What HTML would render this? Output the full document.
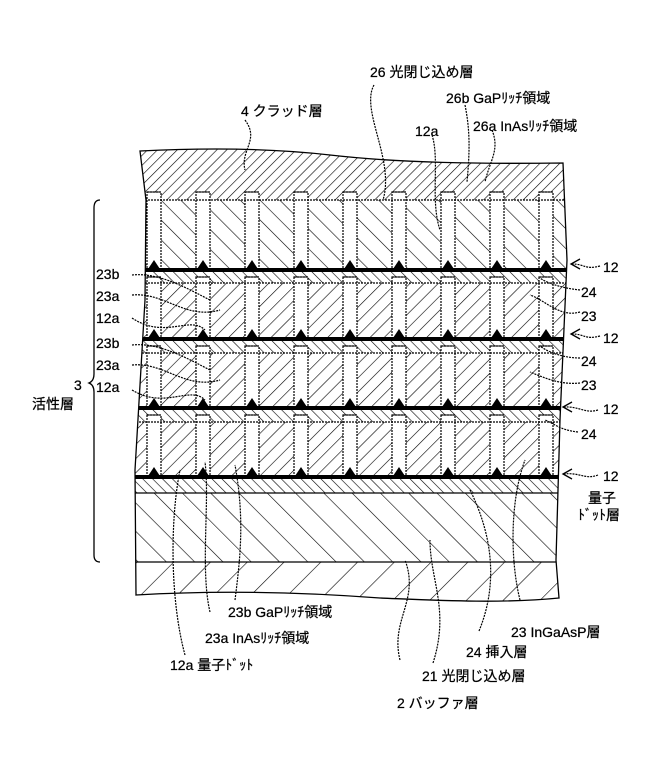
<!DOCTYPE html>
<html><head><meta charset="utf-8"><style>
html,body{margin:0;padding:0;background:#fff;}
svg{display:block;}
text{font-family:"Liberation Sans","Noto Sans CJK JP",sans-serif;font-size:14px;fill:#000;stroke:#000;stroke-width:0.25px;}
</style></head><body>
<svg width="656" height="780" viewBox="0 0 656 780" xmlns="http://www.w3.org/2000/svg">
<defs>
<pattern id="pClad" width="7" height="7" patternUnits="userSpaceOnUse" patternTransform="rotate(45)"><line x1="0" y1="0" x2="0" y2="7" stroke="#000" stroke-width="1.2"/></pattern>
<pattern id="p26" width="14" height="14" patternUnits="userSpaceOnUse" patternTransform="rotate(-45)"><line x1="0" y1="0" x2="0" y2="14" stroke="#000" stroke-width="1.2"/></pattern>
<pattern id="p24" width="7" height="7" patternUnits="userSpaceOnUse" patternTransform="rotate(-45)"><line x1="0" y1="0" x2="0" y2="7" stroke="#000" stroke-width="1.2"/></pattern>
<pattern id="p23" width="10" height="10" patternUnits="userSpaceOnUse" patternTransform="rotate(45)"><line x1="0" y1="0" x2="0" y2="10" stroke="#000" stroke-width="1.2"/></pattern>
<pattern id="p21" width="20" height="20" patternUnits="userSpaceOnUse" patternTransform="rotate(-45)"><line x1="0" y1="0" x2="0" y2="20" stroke="#000" stroke-width="1.2"/></pattern>
<pattern id="p2" width="26" height="26" patternUnits="userSpaceOnUse" patternTransform="rotate(45)"><line x1="0" y1="0" x2="0" y2="26" stroke="#000" stroke-width="1.2"/></pattern>
<clipPath id="body"><path d="M140,151 C200,148 270,148 330,155 C400,163 480,164 563,163 L567,260 L560,420 L556,560 L559,598 C500,604 430,600 380,598 C300,592 220,590 136,595 L135,470 L145,300 L146,200 Z"/></clipPath>
<g id="colrow">
<rect x="147" y="0" width="14" height="1"/><rect x="196" y="0" width="14" height="1"/><rect x="245" y="0" width="14" height="1"/><rect x="294" y="0" width="14" height="1"/><rect x="343" y="0" width="14" height="1"/><rect x="392" y="0" width="14" height="1"/><rect x="441" y="0" width="14" height="1"/><rect x="490" y="0" width="14" height="1"/><rect x="539" y="0" width="14" height="1"/>
</g>
</defs>
<g clip-path="url(#body)">
<rect x="130" y="140" width="440" height="60" fill="url(#pClad)"/>
<rect x="130" y="200" width="440" height="70" fill="url(#p26)"/>
<rect x="130" y="270" width="440" height="13" fill="url(#p24)"/>
<rect x="130" y="283" width="440" height="56" fill="url(#p23)"/>
<rect x="130" y="339" width="440" height="14" fill="url(#p24)"/>
<rect x="130" y="353" width="440" height="55" fill="url(#p23)"/>
<rect x="130" y="408" width="440" height="14" fill="url(#p24)"/>
<rect x="130" y="422" width="440" height="55" fill="url(#p23)"/>
<rect x="130" y="477" width="440" height="16" fill="url(#p24)"/>
<rect x="130" y="493" width="440" height="69" fill="url(#p21)"/>
<rect x="130" y="562" width="440" height="45" fill="url(#p2)"/>
<g stroke="#000" stroke-width="1.2" fill="#fff" stroke-dasharray="2,1">
<g><rect x="147" y="192" width="14" height="78"/><rect x="196" y="192" width="14" height="78"/><rect x="245" y="192" width="14" height="78"/><rect x="294" y="192" width="14" height="78"/><rect x="343" y="192" width="14" height="78"/><rect x="392" y="192" width="14" height="78"/><rect x="441" y="192" width="14" height="78"/><rect x="490" y="192" width="14" height="78"/><rect x="539" y="192" width="14" height="78"/></g>
<g><rect x="147" y="277" width="14" height="62"/><rect x="196" y="277" width="14" height="62"/><rect x="245" y="277" width="14" height="62"/><rect x="294" y="277" width="14" height="62"/><rect x="343" y="277" width="14" height="62"/><rect x="392" y="277" width="14" height="62"/><rect x="441" y="277" width="14" height="62"/><rect x="490" y="277" width="14" height="62"/><rect x="539" y="277" width="14" height="62"/></g>
<g><rect x="147" y="346" width="14" height="62"/><rect x="196" y="346" width="14" height="62"/><rect x="245" y="346" width="14" height="62"/><rect x="294" y="346" width="14" height="62"/><rect x="343" y="346" width="14" height="62"/><rect x="392" y="346" width="14" height="62"/><rect x="441" y="346" width="14" height="62"/><rect x="490" y="346" width="14" height="62"/><rect x="539" y="346" width="14" height="62"/></g>
<g><rect x="147" y="415" width="14" height="62"/><rect x="196" y="415" width="14" height="62"/><rect x="245" y="415" width="14" height="62"/><rect x="294" y="415" width="14" height="62"/><rect x="343" y="415" width="14" height="62"/><rect x="392" y="415" width="14" height="62"/><rect x="441" y="415" width="14" height="62"/><rect x="490" y="415" width="14" height="62"/><rect x="539" y="415" width="14" height="62"/></g>
</g>
<g fill="#000">
<use href="#colrow" y="191.5"/><use href="#colrow" y="276.5"/><use href="#colrow" y="345.5"/><use href="#colrow" y="414.5"/>
</g>
<g stroke="#000" stroke-width="1.2">
<line x1="130" y1="200" x2="570" y2="200" stroke-dasharray="2,1"/>
<line x1="130" y1="283" x2="570" y2="283" stroke-dasharray="2,1"/>
<line x1="130" y1="353" x2="570" y2="353" stroke-dasharray="2,1"/>
<line x1="130" y1="422" x2="570" y2="422" stroke-dasharray="2,1"/>
<line x1="130" y1="493" x2="570" y2="493"/>
<line x1="130" y1="562" x2="570" y2="562"/>
</g>
<g fill="#000">
<rect x="130" y="268" width="440" height="4"/>
<rect x="130" y="337" width="440" height="4"/>
<rect x="130" y="406" width="440" height="4"/>
<rect x="130" y="475" width="440" height="4"/>
</g>
<g fill="#000">
<path id="dts" d="M148,269 L154,260 L160,269Z M197,269 L203,260 L209,269Z M246,269 L252,260 L258,269Z M295,269 L301,260 L307,269Z M344,269 L350,260 L356,269Z M393,269 L399,260 L405,269Z M442,269 L448,260 L454,269Z M491,269 L497,260 L503,269Z M540,269 L546,260 L552,269Z"/>
<use href="#dts" y="69"/><use href="#dts" y="138"/><use href="#dts" y="207"/>
</g>
</g>
<path d="M140,151 C200,148 270,148 330,155 C400,163 480,164 563,163 L567,260 L560,420 L556,560 L559,598 C500,604 430,600 380,598 C300,592 220,590 136,595 L135,470 L145,300 L146,200 Z" fill="none" stroke="#000" stroke-width="1.3"/>
<g fill="none" stroke="#000" stroke-width="1.2" stroke-dasharray="2,1">
<path d="M245,120 C260,140 240,150 245,170"/>
<path d="M374,85 C360,110 395,160 383,200"/>
<path d="M465,105 C470,130 470,150 467,182"/>
<path d="M492,130 C500,150 490,160 485,182"/>
<path d="M432,135 C440,160 430,200 440,230"/>
<path d="M600,266 C585,270 585,264 572,264"/>
<path d="M600,336 C585,340 585,334 572,334"/>
<path d="M598,410 C585,414 580,406 563,407"/>
<path d="M598,475 C585,480 580,472 563,474"/>
<path d="M580,290 C560,288 545,282 540,278"/>
<path d="M580,312 C560,318 545,300 530,295"/>
<path d="M580,358 C560,358 545,350 540,346"/>
<path d="M580,383 C560,385 545,378 530,372"/>
<path d="M578,432 C560,430 555,424 545,420"/>
<path d="M132,275 C160,272 190,290 210,300"/>
<path d="M132,295 C165,292 185,320 220,310"/>
<path d="M132,318 C165,340 190,315 205,330"/>
<path d="M132,345 C160,342 190,360 210,370"/>
<path d="M132,365 C165,362 185,390 220,380"/>
<path d="M132,390 C165,410 190,385 205,400"/>
<path d="M185,655 C170,600 170,520 180,470"/>
<path d="M210,612 C200,570 210,500 205,462"/>
<path d="M235,600 C240,560 245,520 235,465"/>
<path d="M400,660 C390,620 420,600 405,560"/>
<path d="M433,663 C450,610 430,580 430,540"/>
<path d="M479,631 C500,580 490,530 470,490"/>
<path d="M520,600 C510,560 510,500 525,460"/>
</g>
<g fill="none" stroke="#000" stroke-width="1.3">
<path d="M580,259 L571,264 L580,269"/>
<path d="M580,329 L571,334 L580,339"/>
<path d="M572,402 L563,407 L572,412"/>
<path d="M572,469 L563,474 L572,479"/>
</g>
<path d="M100,200 Q94,200 94,208 L94,374 Q94,381 89,383 Q94,385 94,392 L94,555 Q94,562 100,562" fill="none" stroke="#000" stroke-width="1.3"/>
<text x="370" y="77">26 光閉じ込め層</text>
<text x="241" y="116">4 クラッド層</text>
<text x="446" y="103">26b GaPﾘｯﾁ領域</text>
<text x="473" y="131">26a InAsﾘｯﾁ領域</text>
<text x="415" y="136">12a</text>
<text x="603" y="272">12</text>
<text x="581" y="297">24</text>
<text x="581" y="321">23</text>
<text x="603" y="343">12</text>
<text x="581" y="366">24</text>
<text x="581" y="390">23</text>
<text x="603" y="414">12</text>
<text x="581" y="439">24</text>
<text x="603" y="481">12</text>
<text x="588" y="503">量子</text>
<text x="578" y="520">ﾄﾞｯﾄ層</text>
<text x="96" y="279">23b</text>
<text x="96" y="301">23a</text>
<text x="96" y="323">12a</text>
<text x="96" y="348">23b</text>
<text x="96" y="370">23a</text>
<text x="96" y="392">12a</text>
<text x="74" y="390">3</text>
<text x="32" y="409">活性層</text>
<text x="228" y="617">23b GaPﾘｯﾁ領域</text>
<text x="205" y="643">23a InAsﾘｯﾁ領域</text>
<text x="170" y="670">12a 量子ﾄﾞｯﾄ</text>
<text x="511" y="637">23 InGaAsP層</text>
<text x="466" y="657">24 挿入層</text>
<text x="422" y="681">21 光閉じ込め層</text>
<text x="397" y="708">2 バッファ層</text>
</svg>
</body></html>
